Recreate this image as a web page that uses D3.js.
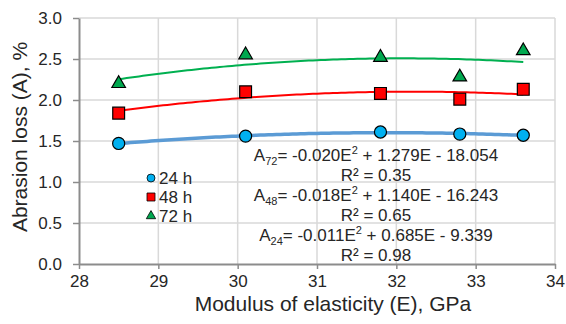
<!DOCTYPE html>
<html>
<head>
<meta charset="utf-8">
<script src="https://cdn.jsdelivr.net/npm/d3@7"></script>
<style>
body { margin: 0; background: #fff; }
text { font-family: "Liberation Sans", Arial, sans-serif; fill: #262626; }
</style>
</head>
<body>
<svg width="566" height="324"></svg>
<script>

// data
var modulus = [28.5, 30.1, 31.8, 32.8, 33.6];
var loss24 = [1.47, 1.56, 1.61, 1.585, 1.57];
var loss48 = [1.84, 2.10, 2.08, 2.01, 2.13];
var loss72 = [2.20, 2.55, 2.52, 2.28, 2.60];
var seriesNames = ["24 h", "48 h", "72 h"];
var xTicks = [28, 29, 30, 31, 32, 33, 34];
var yTicks = [0.0, 0.5, 1.0, 1.5, 2.0, 2.5, 3.0];
var equations = [
  ["A", "72", "= -0.020E", "2", " + 1.279E - 18.054"],
  ["R² = 0.35"],
  ["A", "48", "= -0.018E", "2", " + 1.140E - 16.243"],
  ["R² = 0.65"],
  ["A", "24", "= -0.011E", "2", " + 0.685E - 9.339"],
  ["R² = 0.98"]
];

var svg = d3.select("svg"),
    margin = {top: 18, right: 11, bottom: 60, left: 79},
    width = +svg.attr("width") - margin.left - margin.right,
    height = +svg.attr("height") - margin.top - margin.bottom,
    g = svg.append("g").attr("transform", "translate(" + margin.left + "," + margin.top + ")");

var x = d3.scaleLinear().domain([28, 34]).range([0, width]);
var y = d3.scaleLinear().domain([0, 3]).range([height, 0]);

// grid
g.append("g").selectAll("line").data(xTicks.slice(1)).enter().append("line")
    .attr("x1", function(d) { return x(d); }).attr("x2", function(d) { return x(d); })
    .attr("y1", 0).attr("y2", height)
    .attr("stroke", "#d9d9d9").attr("stroke-width", 1.5);
g.append("g").selectAll("line").data(yTicks.slice(1)).enter().append("line")
    .attr("y1", function(d) { return y(d); }).attr("y2", function(d) { return y(d); })
    .attr("x1", 0).attr("x2", width)
    .attr("stroke", "#d9d9d9").attr("stroke-width", 1.5);

// axes
var xAxis = g.append("g")
    .attr("transform", "translate(0," + height + ")")
    .call(d3.axisBottom(x).tickValues(xTicks).tickFormat(d3.format("d")).tickSizeInner(5).tickSizeOuter(0).tickPadding(6));
var yAxis = g.append("g")
    .call(d3.axisLeft(y).tickValues(yTicks).tickFormat(d3.format(".1f")).tickSizeInner(6).tickSizeOuter(0).tickPadding(11));
[xAxis, yAxis].forEach(function(a) {
  a.select(".domain").attr("stroke", "#8c8c8c").attr("stroke-width", 2);
  a.selectAll(".tick line").attr("stroke", "#8c8c8c").attr("stroke-width", 1.5);
  a.selectAll(".tick text").style("font-family", "Liberation Sans, Arial, sans-serif")
    .style("font-size", "17px").attr("fill", "#262626");
});

// least squares quadratic fit
function quadFit(xs, ys) {
  var s = [0, 0, 0, 0, 0], t = [0, 0, 0];
  xs.forEach(function(xv, i) {
    for (var k = 0; k < 5; k++) s[k] += Math.pow(xv, k);
    for (var k2 = 0; k2 < 3; k2++) t[k2] += ys[i] * Math.pow(xv, k2);
  });
  var m = [[s[0], s[1], s[2], t[0]], [s[1], s[2], s[3], t[1]], [s[2], s[3], s[4], t[2]]];
  for (var i = 0; i < 3; i++) {
    for (var j = i + 1; j < 3; j++) {
      var f = m[j][i] / m[i][i];
      for (var c = i; c < 4; c++) m[j][c] -= f * m[i][c];
    }
  }
  var r = [0, 0, 0];
  for (var i2 = 2; i2 >= 0; i2--) {
    var v = m[i2][3];
    for (var c2 = i2 + 1; c2 < 3; c2++) v -= m[i2][c2] * r[c2];
    r[i2] = v / m[i2][i2];
  }
  return function(e) { return r[0] + r[1] * e + r[2] * e * e; };
}

var series = [
  {name: seriesNames[0], values: loss24, line: "#5b9bd5", lw: 3.5, fill: "#00b0f0", shape: d3.symbolCircle, size: 115, lsize: 50},
  {name: seriesNames[1], values: loss48, line: "#ff0000", lw: 2, fill: "#ff0000", shape: d3.symbolSquare, size: 140, lsize: 64},
  {name: seriesNames[2], values: loss72, line: "#00b050", lw: 2, fill: "#00a84f", shape: d3.symbolTriangle, size: 80, lsize: 38}
];

var line = d3.line()
    .x(function(d) { return x(d[0]); })
    .y(function(d) { return y(d[1]); });

// trendlines
series.slice().reverse().forEach(function(s) {
  var fit = quadFit(modulus, s.values);
  var pts = d3.range(0, 101).map(function(i) {
    var e = modulus[0] + (modulus[modulus.length - 1] - modulus[0]) * i / 100;
    return [e, fit(e)];
  });
  g.append("path").datum(pts)
      .attr("d", line)
      .attr("fill", "none")
      .attr("stroke", s.line)
      .attr("stroke-width", s.lw);
});

// markers
series.forEach(function(s) {
  g.append("g").selectAll("path").data(s.values).enter().append("path")
      .attr("d", d3.symbol().type(s.shape).size(s.size))
      .attr("transform", function(d, i) { return "translate(" + x(modulus[i]) + "," + y(d) + ")"; })
      .attr("fill", s.fill)
      .attr("stroke", "#000")
      .attr("stroke-width", 1.2);
});

// legend
var legend = svg.append("g").attr("transform", "translate(151,178)");
series.forEach(function(s, i) {
  var row = legend.append("g").attr("transform", "translate(0," + (i * 19) + ")");
  row.append("path")
      .attr("d", d3.symbol().type(s.shape).size(s.lsize))
      .attr("fill", s.fill).attr("stroke", "#000").attr("stroke-width", 0.8);
  row.append("text").attr("x", 8).attr("dy", "0.36em")
      .style("font-size", "17px").text(s.name);
});

// trendline equations
var eqY = [161, 181, 201, 221, 241, 261];
equations.forEach(function(parts, i) {
  var t = svg.append("text")
      .attr("x", 376).attr("y", eqY[i])
      .attr("text-anchor", "middle")
      .style("font-size", "17px");
  if (parts.length === 1) {
    t.text(parts[0]);
  } else {
    t.append("tspan").text(parts[0]);
    t.append("tspan").attr("dy", 4).style("font-size", "11px").text(parts[1]);
    t.append("tspan").attr("dy", -4).text(parts[2]);
    t.append("tspan").attr("dy", -7).style("font-size", "11px").text(parts[3]);
    t.append("tspan").attr("dy", 7).text(parts[4]);
  }
});

// axis titles
svg.append("text")
    .attr("x", 333).attr("y", 311)
    .attr("text-anchor", "middle")
    .style("font-size", "21px")
    .text("Modulus of elasticity (E), GPa");
svg.append("text")
    .attr("transform", "translate(27,137) rotate(-90)")
    .attr("text-anchor", "middle")
    .style("font-size", "21px")
    .text("Abrasion loss (A), %");

</script>
</body>
</html>
